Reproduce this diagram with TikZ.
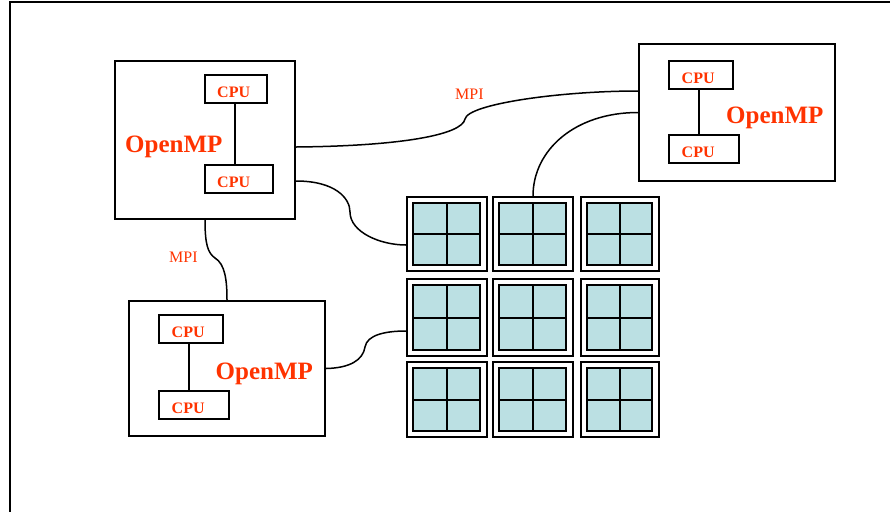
\documentclass[tikz,border=0pt]{standalone}
\usepackage{fontspec}
\setmainfont{Liberation Serif}
\usetikzlibrary{calc}
\definecolor{ompred}{HTML}{FF3300}
\definecolor{coreblue}{HTML}{BBE0E3}
\tikzset{
  box/.style={draw, line width=2pt, inner sep=0pt},
  cpubox/.style={draw, line width=2pt, minimum height=28pt, inner sep=0pt},
  cputxt/.style={text=ompred, font=\fontsize{16}{16}\selectfont\bfseries, inner sep=0pt, anchor=base west},
  omptxt/.style={text=ompred, font=\fontsize{25}{25}\selectfont\bfseries, inner sep=0pt, anchor=base west},
  mpitxt/.style={text=ompred, font=\fontsize{16}{16}\selectfont, inner sep=0pt, anchor=base west},
  cluster/.style={draw, line width=2pt, fill=white, inner sep=0pt},
  core/.style={draw, line width=2pt, fill=coreblue, inner sep=0pt},
  conn/.style={line width=1.5pt},
  link/.style={line width=2pt}
}
\begin{document}
\begin{tikzpicture}[x=1pt, y=-1pt]
\useasboundingbox (0,0) rectangle (890,512);
% frame
\draw[line width=2pt] (890,1.5) -- (10,1.5) -- (10,512);

% OpenMP box 1 (top left)
\node[box, minimum width=180pt, minimum height=158pt] (b1) at (205,140) {};
\node[cpubox, minimum width=62pt] (c11) at (236,89) {};
\node[cputxt] (c11t) at (217,97) {CPU};
\node[cpubox, minimum width=68pt] (c12) at (239,179) {};
\node[cputxt] (c12t) at (217,187) {CPU};
\draw[link] ($(c11.south)+(-1,0)$) -- ($(c11.south|-c12.north)+(-1,0)$);
\node[omptxt] (o1) at (125,152) {OpenMP};

% OpenMP box 2 (top right)
\node[box, minimum width=196pt, minimum height=137pt] (b2) at (737,112.5) {};
\node[cpubox, minimum width=64pt] (c21) at (701,75) {};
\node[cputxt] (c21t) at (681.5,83) {CPU};
\node[cpubox, minimum width=70pt] (c22) at (704,149) {};
\node[cputxt] (c22t) at (681.5,157) {CPU};
\draw[link] ($(c21.south)+(-2,0)$) -- ($(c21.south|-c22.north)+(-2,0)$);
\node[omptxt] (o2) at (726,123) {OpenMP};

% OpenMP box 3 (bottom left)
\node[box, minimum width=196pt, minimum height=135pt] (b3) at (227,368.5) {};
\node[cpubox, minimum width=64pt] (c31) at (191,329) {};
\node[cputxt] (c31t) at (171.5,337) {CPU};
\node[cpubox, minimum width=70pt] (c32) at (194,405) {};
\node[cputxt] (c32t) at (171.5,413) {CPU};
\draw[link] ($(c31.south)+(-2,0)$) -- ($(c31.south|-c32.north)+(-2,0)$);
\node[omptxt] (o3) at (215.5,379) {OpenMP};

% grid of clusters
\foreach \r/\cy/\h in {1/234/74, 2/317.5/77, 3/399.5/75}{
  \foreach \c/\cx/\w in {1/447/80, 2/533/80, 3/620/78}{
    \node[cluster, minimum width=\w pt, minimum height=\h pt] (g\r\c) at (\cx,\cy) {};
    \node[core, minimum width={(\w-13)*1pt}, minimum height={(\h-12)*1pt}] (i\r\c) at (\cx-0.5,\cy) {};
    \draw[link] (i\r\c.north) -- (i\r\c.south) (i\r\c.west) -- (i\r\c.east);
  }
}

% MPI labels
\node[mpitxt] (m1) at (455,99) {MPI};
\node[mpitxt] (m2) at (169,262.5) {MPI};

% connectors
\coordinate (k1) at (465,119);
\draw[conn] ($(b1.east)+(0,7)$) .. controls (400,146) and (462,135) .. (k1)
  .. controls (468,104) and (560,91) .. ($(b2.west)+(0,-21.5)$);
\draw[conn] (b2.west) .. controls (575,112.5) and (g12.north|-0,150) .. (g12.north);
\coordinate (k2) at (350,212);
\draw[conn] ($(b1.east)+(0,41)$) .. controls (335,181) and (350,198) .. (k2)
  .. controls (350,232) and (380,245) .. ($(g11.west)+(0,11)$);
\coordinate (k3) at (365,347);
\draw[conn] (b3.east) .. controls (350,368) and (363,360) .. (k3)
  .. controls (367,335) and (385,331) .. ($(g21.west)+(0,13.5)$);
\coordinate (k4) at (215,258);
\draw[conn] (b1.south) .. controls (205,245) and (208,253) .. (k4)
  .. controls (225,264) and (227,280) .. (b3.north);
\end{tikzpicture}
\end{document}
